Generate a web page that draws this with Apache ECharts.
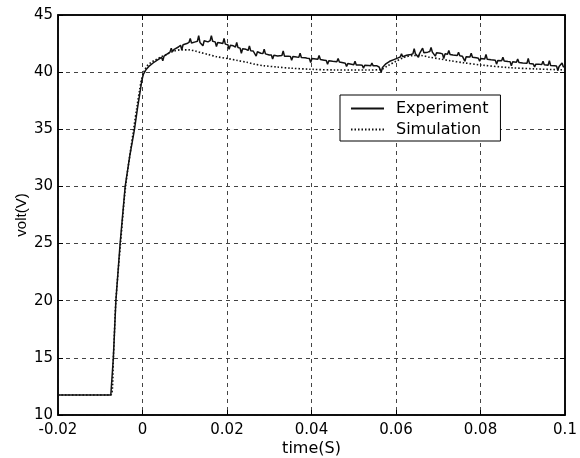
<!DOCTYPE html>
<html>
<head>
<meta charset="utf-8">
<script src="https://cdn.jsdelivr.net/npm/echarts@6/dist/echarts.min.js"></script>
<style>html,body{margin:0;padding:0;background:#fff;}#c{width:580px;height:458px;}</style>
</head>
<body>
<div id="c"></div>
<script>
var xTicks = [-0.02, 0, 0.02, 0.04, 0.06, 0.08, 0.1];
var yTicks = [10, 15, 20, 25, 30, 35, 40, 45];
var seriesNames = ['Experiment', 'Simulation'];

var experiment = [[-0.02,11.75],[-0.0075,11.75],[-0.0069,15.0],[-0.0063,20.0],[-0.0053,25.0],[-0.0041,30.0],[-0.003,32.7],[-0.0019,35.0],[-0.0012,36.8],[-0.0006,38.2],[-0.0002,39.2],[0.0002,39.8],[0.0008,40.2],[0.0015,40.5],[0.0025,40.8],[0.0035,41.05],[0.0045,41.3],[0.0048,41.0],[0.0051,41.4],[0.0055,41.5],[0.0065,41.75],[0.0068,42.1],[0.0071,41.8],[0.0075,42.0],[0.0085,42.2],[0.009,42.35],[0.0093,41.95],[0.0096,42.4],[0.0105,42.5],[0.011,42.6],[0.0113,42.95],[0.0116,42.55],[0.0125,42.65],[0.013,42.7],[0.0133,43.2],[0.0136,42.6],[0.014,42.7],[0.0143,42.3],[0.0146,42.75],[0.0155,42.65],[0.016,42.75],[0.0163,43.2],[0.0166,42.7],[0.0172,42.65],[0.0175,42.25],[0.0178,42.6],[0.0185,42.55],[0.019,42.5],[0.0193,42.95],[0.0196,42.45],[0.0202,42.4],[0.0205,42.0],[0.0208,42.35],[0.0215,42.3],[0.022,42.2],[0.0223,42.6],[0.0226,42.15],[0.0231,42.1],[0.0234,41.65],[0.0237,42.05],[0.0245,42.0],[0.025,41.9],[0.0253,42.3],[0.0256,41.88],[0.0262,41.85],[0.0266,41.8],[0.0269,41.4],[0.0272,41.78],[0.028,41.65],[0.0285,41.62],[0.0288,42.0],[0.0291,41.6],[0.030,41.5],[0.0305,41.5],[0.0308,41.15],[0.0311,41.48],[0.032,41.42],[0.033,41.45],[0.0333,41.85],[0.0336,41.4],[0.0345,41.4],[0.035,41.38],[0.0353,41.05],[0.0356,41.36],[0.0365,41.32],[0.037,41.3],[0.0373,41.65],[0.0376,41.28],[0.0385,41.25],[0.039,41.22],[0.0395,41.2],[0.0398,40.85],[0.0401,41.2],[0.041,41.15],[0.0415,41.12],[0.0418,41.45],[0.0421,41.1],[0.043,41.05],[0.0435,41.02],[0.0438,40.7],[0.0441,41.0],[0.045,40.95],[0.046,40.9],[0.0463,41.2],[0.0466,40.88],[0.0475,40.82],[0.048,40.78],[0.0483,40.5],[0.0486,40.75],[0.049,40.7],[0.050,40.65],[0.0503,40.95],[0.0506,40.63],[0.0515,40.62],[0.052,40.6],[0.0523,40.35],[0.0526,40.6],[0.0535,40.58],[0.054,40.55],[0.0543,40.8],[0.0546,40.55],[0.0555,40.55],[0.056,40.45],[0.0565,40.0],[0.0568,40.4],[0.0575,40.7],[0.0585,40.95],[0.0595,41.1],[0.0605,41.25],[0.061,41.32],[0.0613,41.6],[0.0616,41.35],[0.0625,41.48],[0.0635,41.55],[0.064,41.6],[0.0643,42.05],[0.0646,41.6],[0.065,41.65],[0.0653,41.3],[0.0656,41.65],[0.066,41.7],[0.0663,42.1],[0.0666,41.7],[0.0675,41.75],[0.068,41.8],[0.0683,42.15],[0.0686,41.75],[0.069,41.72],[0.0693,41.4],[0.0696,41.7],[0.0705,41.65],[0.071,41.6],[0.0713,41.2],[0.0716,41.6],[0.0722,41.57],[0.0725,41.9],[0.0728,41.55],[0.0735,41.5],[0.0745,41.45],[0.0748,41.75],[0.0751,41.43],[0.0757,41.4],[0.076,41.38],[0.0763,40.95],[0.0766,41.35],[0.0775,41.32],[0.0778,41.65],[0.0781,41.3],[0.079,41.25],[0.0795,41.22],[0.0798,40.95],[0.0801,41.2],[0.081,41.15],[0.0813,41.55],[0.0816,41.12],[0.0825,41.08],[0.0835,41.05],[0.0838,40.7],[0.0841,41.02],[0.085,41.0],[0.0853,41.3],[0.0856,40.98],[0.0865,40.94],[0.087,40.92],[0.0873,40.55],[0.0876,40.9],[0.0885,40.87],[0.0888,41.15],[0.0891,40.85],[0.09,40.81],[0.091,40.78],[0.0913,41.2],[0.0916,40.75],[0.0925,40.72],[0.0928,40.45],[0.0931,40.7],[0.094,40.68],[0.0945,40.67],[0.0948,40.95],[0.0951,40.65],[0.096,40.6],[0.0963,41.0],[0.0966,40.58],[0.0975,40.55],[0.098,40.53],[0.0983,40.15],[0.0986,40.5],[0.099,40.5],[0.0993,40.8],[0.0996,40.48],[0.1,40.45]];

var simulation = [[-0.02,11.75],[-0.0075,11.75],[-0.0069,15],[-0.0063,20],[-0.0052,25],[-0.004,30],[-0.0021,35],[-0.0013,37],[-0.0007,38.4],[-0.0002,39.4],[0.0004,40.1],[0.001,40.5],[0.002,40.85],[0.003,41.05],[0.0045,41.35],[0.006,41.6],[0.0075,41.85],[0.009,41.95],[0.011,41.95],[0.0125,41.85],[0.0136,41.73],[0.0155,41.55],[0.0176,41.35],[0.02,41.2],[0.0225,41.02],[0.0247,40.86],[0.0265,40.7],[0.0286,40.57],[0.0318,40.45],[0.035,40.35],[0.04,40.25],[0.046,40.19],[0.0534,40.19],[0.0566,40.25],[0.058,40.55],[0.06,40.95],[0.062,41.3],[0.064,41.45],[0.066,41.45],[0.068,41.3],[0.0705,41.15],[0.0728,41.0],[0.076,40.82],[0.08,40.63],[0.087,40.39],[0.0933,40.28],[0.1,40.19]];

var FONT = '"DejaVu Sans", sans-serif';
var chart = echarts.init(document.getElementById('c'));
function fmt(v){ return String(parseFloat(Number(v).toFixed(3))); }
var gridStyle = {show:true, lineStyle:{color:'#444', type:[4,4], width:1}};
chart.setOption({
  animation:false,
  backgroundColor:'#fff',
  grid:{left:58, right:15, top:15, bottom:43, show:true, borderColor:'#000', borderWidth:1.5,
        containLabel:false, outerBoundsMode:'none'},
  legend:{
    data:seriesNames, orient:'vertical', left:340, top:95,
    backgroundColor:'#fff', borderColor:'#000', borderWidth:1,
    padding:[5,12,3,10], itemGap:4, itemWidth:33, itemHeight:14,
    itemStyle:{opacity:0},
    textStyle:{fontFamily:FONT, fontSize:16, color:'#000', lineHeight:17, padding:[0,0,0,7]}
  },
  xAxis:[{
    type:'value', min:xTicks[0], max:xTicks[xTicks.length-1], interval:0.02,
    name:'time(S)', nameLocation:'middle', nameGap:26, nameMoveOverlap:false,
    nameTextStyle:{fontFamily:FONT, fontSize:16, color:'#000', verticalAlign:'top'},
    axisLine:{show:true, onZero:false, lineStyle:{color:'#000', width:1.5}},
    axisTick:{show:true, inside:true, length:5, lineStyle:{color:'#000'}},
    axisLabel:{formatter:fmt, fontFamily:FONT, fontSize:15, color:'#000', margin:8},
    splitLine:gridStyle
  },{
    type:'value', position:'top', min:xTicks[0], max:xTicks[xTicks.length-1], interval:0.02,
    axisLine:{show:true, onZero:false, lineStyle:{color:'#000', width:1.5}},
    axisTick:{show:true, inside:true, length:5, lineStyle:{color:'#000'}},
    axisLabel:{show:false}, splitLine:{show:false}
  }],
  yAxis:[{
    type:'value', min:yTicks[0], max:yTicks[yTicks.length-1], interval:5,
    name:'volt(V)', nameLocation:'middle', nameGap:29, nameMoveOverlap:false,
    nameTextStyle:{fontFamily:'"Liberation Sans", Arial, sans-serif', fontSize:15, color:'#000'},
    axisLine:{show:true, onZero:false, lineStyle:{color:'#000', width:1.5}},
    axisTick:{show:true, inside:true, length:5, lineStyle:{color:'#000'}},
    axisLabel:{fontFamily:FONT, fontSize:15, color:'#000', margin:5},
    splitLine:gridStyle
  },{
    type:'value', position:'right', min:yTicks[0], max:yTicks[yTicks.length-1], interval:5,
    axisLine:{show:true, onZero:false, lineStyle:{color:'#000', width:1.5}},
    axisTick:{show:true, inside:true, length:5, lineStyle:{color:'#000'}},
    axisLabel:{show:false}, splitLine:{show:false}
  }],
  series:[{
    name:seriesNames[0], type:'line', data:experiment, showSymbol:false, symbol:'none',
    lineStyle:{color:'#111', width:1.5}, itemStyle:{color:'#111'}, z:3
  },{
    name:seriesNames[1], type:'line', data:simulation, showSymbol:false, symbol:'none', smooth:0.3,
    lineStyle:{color:'#111', width:1.6, type:[1.5,2]}, itemStyle:{color:'#111'}, z:2
  }]
});
</script>
</body>
</html>
